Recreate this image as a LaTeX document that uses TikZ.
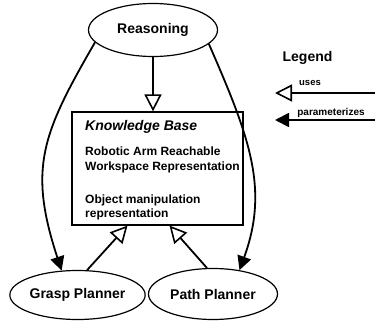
\documentclass[tikz,border=0pt]{standalone}
\usepackage{fontspec}
\setmainfont{Liberation Sans}
\usetikzlibrary{arrows.meta,shapes.geometric,calc}
\begin{document}
\begin{tikzpicture}[x=1pt,y=-1pt,
  every node/.style={font=\bfseries},
  proc/.style={draw, ellipse, line width=1.2pt, inner sep=0pt, minimum width=129pt, font=\fontsize{14}{16}\selectfont\bfseries},
  kbbox/.style={draw, rectangle, line width=1.2pt, inner sep=0pt},
  kbtext/.style={anchor=base west, inner sep=0pt, font=\fontsize{12}{14}\selectfont\bfseries},
  uses/.style={line width=1.8pt, -{Triangle[open, length=17pt, width=17pt, line width=1.6pt]}},
  params/.style={line width=1.8pt, -{Triangle[length=14pt, width=14pt]}},
  small/.style={inner sep=0pt, font=\fontsize{10}{12}\selectfont\bfseries}
]
\useasboundingbox (0,0) rectangle (375,321);

% nodes
\node[proc, minimum height=53pt] (reas) at (153,30) {Reasoning};
\node[proc, minimum height=49pt] (grasp) at (77.5,295) {Grasp Planner};
\node[proc, minimum height=51pt] (path) at (213,294) {Path Planner};
\node[kbbox, minimum width=171pt, minimum height=113pt] (kb) at (157.5,168.5) {};

\node[kbtext, font=\fontsize{14}{16}\selectfont\bfseries\itshape] (kbt) at (85,130) {Knowledge Base};
\node[kbtext] (kb1) at (85,155) {Robotic Arm Reachable};
\node[kbtext] (kb2) at (85,170) {Workspace Representation};
\node[kbtext] (kb3) at (85,203) {Object manipulation};
\node[kbtext] (kb4) at (85,217) {representation};

% connectors
\draw[uses] (reas.south) -- (reas.south |- kb.north);
\draw[uses] (grasp.69) -- ([xshift=-30pt]kb.south);
\draw[uses] (path.103) -- ([xshift=12pt]kb.south);
\draw[params] (reas.192) .. controls (42,134) and (28,168) .. (grasp.123);
\draw[params] (reas.346) .. controls (250,138) and (269,189) .. (path.42);

% legend
\node[inner sep=0pt, font=\fontsize{14}{16}\selectfont\bfseries] (leg) at (307.5,58) {Legend};
\coordinate (ua) at (375,93);
\coordinate (ub) at (275,93);
\coordinate (pa) at (375,120);
\coordinate (pb) at (275,120);
\draw[uses] (ua) -- (ub);
\draw[params] (pa) -- (pb);
\node[small, font=\fontsize{9.5}{11}\selectfont\bfseries] (lu) at (310,83) {uses};
\node[small] (lp) at (331,113) {parameterizes};
\end{tikzpicture}
\end{document}
